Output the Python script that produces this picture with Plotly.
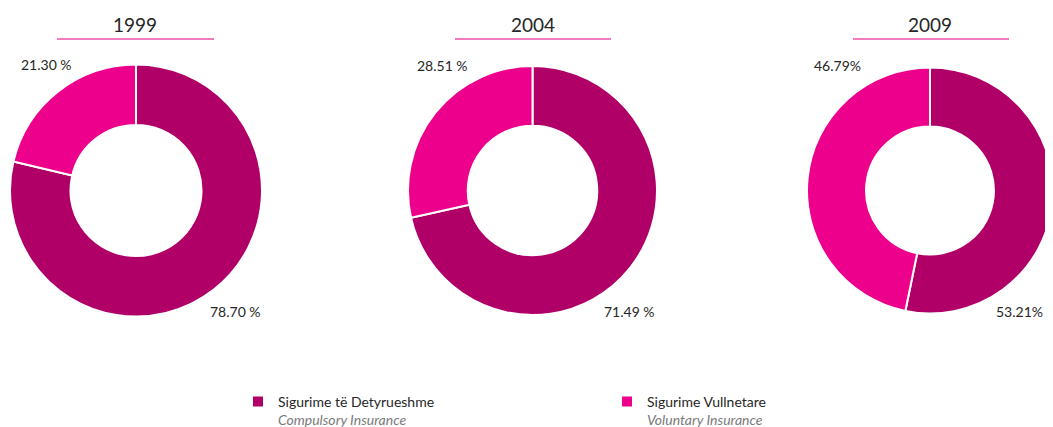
import plotly.graph_objects as go

years = ["1999", "2004", "2009"]
categories = ["Sigurime të Detyrueshme<br><i><span style='color:#7a7a7a'>Compulsory Insurance</span></i>",
              "Sigurime Vullnetare<br><i><span style='color:#7a7a7a'>Voluntary Insurance</span></i>"]
compulsory = [78.70, 71.49, 53.21]
voluntary = [21.30, 28.51, 46.79]
comp_labels = ["78.70 %", "71.49 %", "53.21%"]
vol_labels = ["21.30 %", "28.51 %", "46.79%"]

colors = ["#B00068", "#EC008C"]
FONT = "Lato, 'Liberation Sans Narrow', 'DejaVu Sans Condensed', sans-serif"

# page has an 8px body margin; figure is sized to fill the rest of the window
OFF = 8
W, H = 1045, 419


def px(x):
    return (x - OFF) / W


def py(y):
    return 1 - (y - OFF) / H


centers_px = [136, 532.5, 931.5]
radius_px = [126, 124.5, 124.5]
ytop, ybot = 64.5, 316.5
title_x = [135, 532.5, 930]
line_x = [(57, 214), (455, 611), (853, 1009)]
label_pos_vol = [(46, 64), (442, 66), (837, 66)]
label_pos_comp = [(235, 311.5), (629.5, 311.5), (1019, 311.5)]

fig = go.Figure()
for i, yr in enumerate(years):
    cx, r = centers_px[i], radius_px[i]
    x0 = max(0, px(cx - r))
    x1 = min(1, px(cx + r))
    fig.add_trace(go.Pie(
        labels=categories,
        values=[compulsory[i], voluntary[i]],
        hole=0.52,
        sort=False,
        direction="clockwise",
        rotation=0,
        textinfo="none",
        hoverinfo="label+percent",
        marker=dict(colors=colors, line=dict(color="white", width=2)),
        domain=dict(x=[x0, x1], y=[py(ybot), py(ytop)]),
        showlegend=(i == 0),
    ))
    fig.add_annotation(x=px(title_x[i]), y=py(25), xref="paper", yref="paper",
                       xanchor="center", yanchor="middle",
                       text=yr, showarrow=False, font=dict(size=19, color="#262626", family=FONT))
    fig.add_shape(type="line", xref="paper", yref="paper",
                  x0=px(line_x[i][0]), x1=px(line_x[i][1]), y0=py(39), y1=py(39),
                  line=dict(color="#EC4FA6", width=1.5))
    fig.add_annotation(x=px(label_pos_vol[i][0]), y=py(label_pos_vol[i][1]),
                       xref="paper", yref="paper", xanchor="center", yanchor="middle",
                       text=vol_labels[i], showarrow=False,
                       font=dict(size=14, color="#262626", family=FONT))
    fig.add_annotation(x=px(label_pos_comp[i][0]), y=py(label_pos_comp[i][1]),
                       xref="paper", yref="paper", xanchor="center", yanchor="middle",
                       text=comp_labels[i], showarrow=False,
                       font=dict(size=14, color="#262626", family=FONT))

fig.update_layout(
    width=W, height=H,
    margin=dict(l=0, r=0, t=0, b=0, autoexpand=False),
    paper_bgcolor="white",
    plot_bgcolor="white",
    font=dict(family=FONT, size=14, color="#262626"),
    legend=dict(orientation="h", x=px(238), y=py(386), xanchor="left", yanchor="top",
                entrywidth=324, entrywidthmode="pixels", valign="top",
                font=dict(size=14, family=FONT, color="#262626"),
                traceorder="normal"),
)

fig.write_html("out.html")
